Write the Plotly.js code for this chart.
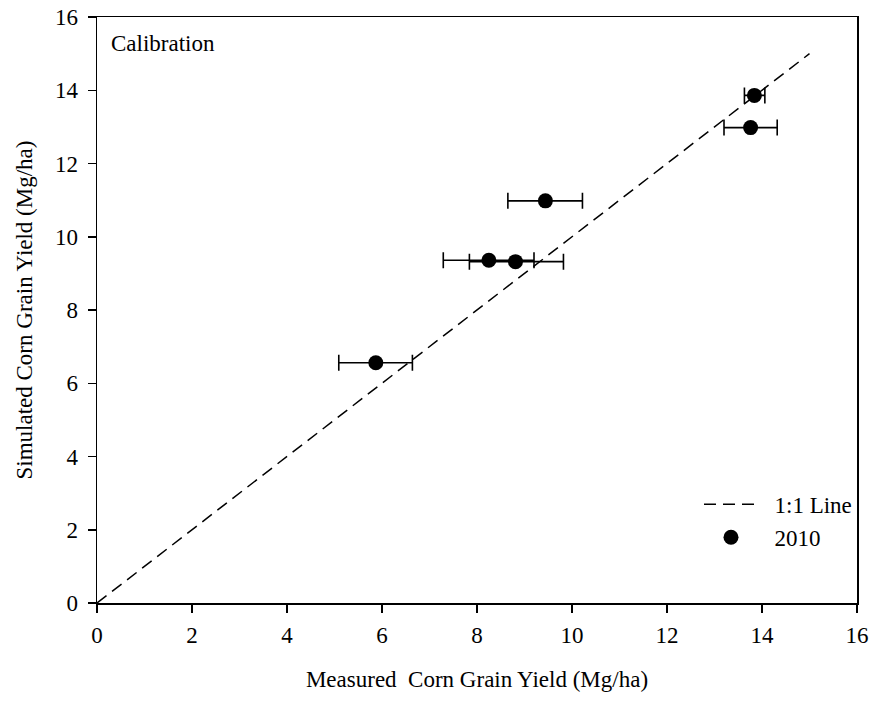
<!DOCTYPE html>
<html>
<head>
<meta charset="utf-8">
<script src="https://cdn.plot.ly/plotly-3.0.1.min.js"></script>
<style>html,body{margin:0;padding:0;background:#fff;}#chart{width:874px;height:704px;}</style>
</head>
<body>
<div id="chart"></div>
<script>
// Data
var measured = [5.87, 8.25, 8.81, 9.44, 13.84, 13.76];
var simulated = [6.56, 9.36, 9.32, 10.98, 13.86, 12.98];
var errPlus = [0.77, 0.95, 1.01, 0.78, 0.22, 0.56];
var errMinus = [0.78, 0.96, 0.97, 0.79, 0.21, 0.56];
var lineX = [0, 15];
var lineY = [0, 15];
var tickVals = [0, 2, 4, 6, 8, 10, 12, 14, 16];
var tickText = ["0", "2", "4", "6", "8", "10", "12", "14", "16"];

var FONT = "'Liberation Serif', 'Times New Roman', serif";
var FS = 23;

var traces = [
  {
    x: lineX, y: lineY, mode: "lines", type: "scatter", name: "\u00a0\u00a01:1 Line",
    line: {color: "#000", width: 1.5, dash: "12px,7px"},
    hoverinfo: "skip"
  },
  {
    x: measured, y: simulated, mode: "markers", type: "scatter", name: "\u00a0\u00a02010",
    marker: {color: "#000", size: 15, symbol: "circle"},
    error_x: {type: "data", symmetric: false, array: errPlus, arrayminus: errMinus,
              color: "#000", thickness: 1.6, width: 8}
  }
];

var axisCommon = {
  range: [0, 16], tickmode: "array", tickvals: tickVals, ticktext: tickText,
  showgrid: false, zeroline: false, showline: true, linecolor: "#000", linewidth: 1.5,
  mirror: true, ticks: "outside", ticklen: 8, tickwidth: 1.5, tickcolor: "#000",
  tickfont: {family: FONT, size: FS, color: "#000"}
};

var layout = {
  width: 874, height: 704,
  margin: {l: 97, r: 17, t: 17, b: 101},
  paper_bgcolor: "#fff", plot_bgcolor: "#fff",
  font: {family: FONT, size: FS, color: "#000"},
  showlegend: true,
  legend: {
    x: 0.7921, y: 0.205, xanchor: "left", yanchor: "top",
    bgcolor: "rgba(0,0,0,0)", borderwidth: 0,
    itemwidth: 54,
    font: {family: FONT, size: FS, color: "#000"}
  },
  xaxis: Object.assign({}, axisCommon, {
    ticklabelstandoff: 3,
    title: {text: "Measured  Corn Grain Yield (Mg/ha)", font: {family: FONT, size: FS, color: "#000"}, standoff: 24}
  }),
  yaxis: Object.assign({}, axisCommon, {
    ticklabelstandoff: 5,
    title: {text: "Simulated Corn Grain Yield (Mg/ha)", font: {family: FONT, size: FS, color: "#000"}, standoff: 16}
  }),
  annotations: [
    {text: "Calibration", xref: "paper", yref: "paper", x: 0.016, y: 0.954,
     xanchor: "left", yanchor: "middle", showarrow: false,
     font: {family: FONT, size: FS, color: "#000"}}
  ]
};

Plotly.newPlot("chart", traces, layout, {displayModeBar: false, staticPlot: true});
</script>
</body>
</html>
